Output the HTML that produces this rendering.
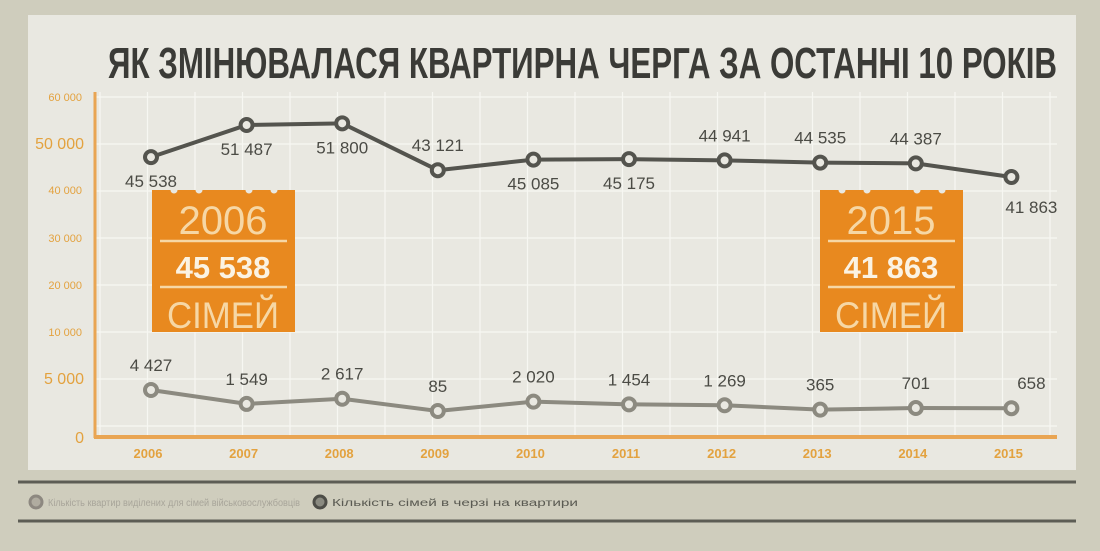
<!DOCTYPE html>
<html><head><meta charset="utf-8"><style>
html,body{margin:0;padding:0;background:#cfcdbd;}
svg{display:block;font-family:"Liberation Sans",sans-serif;}
</style></head><body>
<svg id="chart" width="1100" height="551" viewBox="0 0 1100 551">
<rect x="0" y="0" width="1100" height="551" fill="#cfcdbd"/>
<rect x="28" y="15" width="1048" height="455" fill="#e9e8e1"/>
<g id="grid"></g>
<text x="108" y="78" font-family="'Liberation Sans Narrow','Liberation Sans',sans-serif" font-weight="bold" font-size="44" fill="#3b3b37" textLength="949" lengthAdjust="spacingAndGlyphs">ЯК ЗМІНЮВАЛАСЯ КВАРТИРНА ЧЕРГА ЗА ОСТАННІ 10 РОКІВ</text>
<g id="yaxis"></g>
<line x1="95" y1="92" x2="95" y2="438" stroke="#e9a553" stroke-width="3"/>
<line x1="94" y1="437" x2="1057" y2="437" stroke="#e9a553" stroke-width="4"/>
<g id="xaxis"></g>
<g id="callouts"></g>
<g id="series"></g>
<line x1="18" y1="482" x2="1076" y2="482" stroke="#5d5d55" stroke-width="3"/>
<line x1="18" y1="521" x2="1076" y2="521" stroke="#5d5d55" stroke-width="3"/>
<g>
<circle cx="36" cy="502" r="6" fill="#b0aca0" stroke="#8d8880" stroke-width="3"/>
<text x="48" y="506" font-size="10" fill="#a8a59a" textLength="252" lengthAdjust="spacingAndGlyphs">Кількість квартир виділених для сімей військовослужбовців</text>
</g>
<g>
<circle cx="320" cy="502" r="6" fill="#8a8a80" stroke="#4d4d47" stroke-width="3"/>
<text x="332" y="506" font-size="10" fill="#5a5a52" textLength="246" lengthAdjust="spacingAndGlyphs">Кількість сімей в черзі на квартири</text>
</g>
</svg>
<script>
const years = ["2006","2007","2008","2009","2010","2011","2012","2013","2014","2015"];
const families = [45538,51487,51800,43121,45085,45175,44941,44535,44387,41863];
const apartments = [4427,1549,2617,85,2020,1454,1269,365,701,658];
const familiesLabelPos = ["below","below","below","above","below","below","above","above","above","below"];
const yTickLabels = ["60 000","50 000","40 000","30 000","20 000","10 000","5 000","0"];
const yTickValues = [60000,50000,40000,30000,20000,10000,5000,0];
const calloutYears = ["2006","2015"];
const calloutValues = ["45 538","41 863"];

const NS="http://www.w3.org/2000/svg";
function el(tag,attrs,parent){const e=document.createElementNS(NS,tag);for(const k in attrs)e.setAttribute(k,attrs[k]);parent.appendChild(e);return e;}
const x = i => 151 + i*95.6;
const yTop = v => 177 - (v-41863)*0.0054;
const yLow = v => 411 - (v-85)*0.00484;
const yAxisPos = v => { const tv=[0,5000,10000,20000,30000,40000,50000,60000], tp=[437,378,332,285,238,190,143,97];
  for(let i=1;i<tv.length;i++){ if(v<=tv[i]) return tp[i-1]+(v-tv[i-1])/(tv[i]-tv[i-1])*(tp[i]-tp[i-1]); } return 97; };

const grid=document.getElementById('grid');
for(let gx=100;gx<1060;gx+=47.5){ const l=el('line',{x1:gx,y1:92,x2:gx,y2:437,stroke:"#f7f7f2","stroke-width":1.2},grid);

 }
for(let gy=97;gy<437;gy+=47){ const l=el('line',{x1:95,y1:gy,x2:1057,y2:gy,stroke:"#f7f7f2","stroke-width":1.2},grid);

 }

const ya=document.getElementById('yaxis');
yTickValues.forEach((v,i)=>{
  const big = (v===50000||v===5000||v===0);
  const t=el('text',{x:big?84:82,y:yAxisPos(v)+(big?6:4),"text-anchor":"end","font-size":big?16:11,fill:"#e3a23f"},ya);
  t.textContent=yTickLabels[i];
  
  
});
const xa=document.getElementById('xaxis');
years.forEach((yr,i)=>{
  const t=el('text',{x:x(i)-3,y:458,"text-anchor":"middle","font-size":13,"font-weight":"bold",fill:"#e3a23f"},xa);
  t.textContent=yr;
  
  
});

const co=document.getElementById('callouts');
[152,820].forEach((bx,k)=>{
  const g=el('g',{},co);
  
  
  el('rect',{x:bx,y:190,width:143,height:142,fill:"#e8891f"},g);
  [bx+22,bx+47,bx+97,bx+122].forEach(cx=>el('circle',{cx:cx,cy:190,r:3.5,fill:"#e9e8e1"},g));
  el('line',{x1:bx+8,y1:241,x2:bx+135,y2:241,stroke:"#f6d7a5","stroke-width":2.5},g);
  el('line',{x1:bx+8,y1:287,x2:bx+135,y2:287,stroke:"#f6d7a5","stroke-width":2.5},g);
  const t1=el('text',{x:bx+71,y:234,"text-anchor":"middle","font-size":40,fill:"#f6d7a5","font-weight":"300"},g); t1.textContent=calloutYears[k];
  const t2=el('text',{x:bx+71,y:278,"text-anchor":"middle","font-size":31,"font-weight":"bold",fill:"#fbf3e3"},g); t2.textContent=calloutValues[k];
  const t3=el('text',{x:bx+71,y:328,"text-anchor":"middle","font-size":37,fill:"#f6d7a5",textLength:112,lengthAdjust:"spacingAndGlyphs"},g); t3.textContent="СІМЕЙ";
});

const sg=document.getElementById('series');
function drawSeries(vals,yf,color,name,labelPos){
  const g=el('g',{},sg);
  
  
  const pl=el('polyline',{points:vals.map((v,i)=>x(i)+","+yf(v)).join(" "),fill:"none",stroke:color,"stroke-width":4},g);
  
  
  vals.forEach((v,i)=>{
    const c=el('circle',{cx:x(i),cy:yf(v),r:6,fill:"#e9e8e1",stroke:color,"stroke-width":4},g);
    
    
    const pos=labelPos?labelPos[i]:"above";
    const ly = pos==="above" ? yf(v)-19 : yf(v)+ (i===9?36:30);
    const t=el('text',{x:x(i)+(i===9?20:0),y:ly,"text-anchor":"middle","font-size":17,fill:"#4b4b45"},g);
    t.textContent=v.toLocaleString('en-US').replace(/,/g,' ');
    
    
  });
}
drawSeries(families,yTop,"#54544e","families-series",familiesLabelPos);
drawSeries(apartments,yLow,"#8c8a80","apartments-series",null);
</script>
</body></html>
